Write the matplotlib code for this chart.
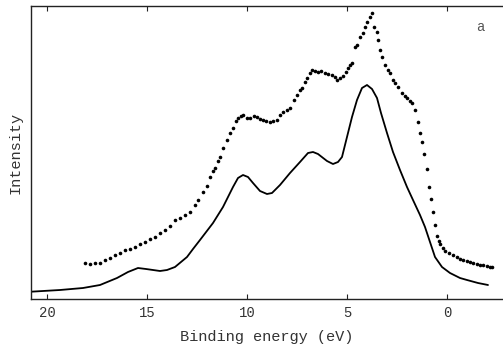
import matplotlib
matplotlib.use("Agg")
import matplotlib.pyplot as plt

# Calculated spectrum (solid line)
calc_energy = [20.8, 19.35, 18.2, 17.35, 16.5, 15.95, 15.45, 15.05, 14.7, 14.35, 14.0, 13.6,
               13.3, 13.0, 12.7, 12.35, 11.7, 11.2, 10.7, 10.45, 10.2, 9.95, 9.7, 9.35,
               9.0, 8.75, 8.35, 7.85, 7.35, 6.95, 6.7, 6.45, 6.0, 5.7, 5.45, 5.25, 5.0,
               4.75, 4.5, 4.25, 4.0, 3.75, 3.5, 3.3, 3.0, 2.7, 2.35, 2.0, 1.7, 1.35, 1.1,
               0.85, 0.6, 0.25, -0.15, -0.65, -1.0, -1.55, -2.05]
calc_intensity = [7.3, 9, 11, 14, 21, 27, 31, 30, 29, 28, 29, 32,
                  37, 42, 50, 59, 76, 92, 112, 121, 124, 122, 116, 108,
                  105, 106, 114, 126, 137, 146, 147, 145, 138, 135, 137, 142, 162,
                  182, 199, 211, 214, 210, 201, 186, 166, 147, 129, 112, 99, 84, 72,
                  57, 42, 32, 26, 21, 19, 16, 14]

# Experimental spectrum (dots)
exp_energy = [18.1, 17.85, 17.6, 17.35, 17.1, 16.85, 16.6, 16.35, 16.1, 15.85, 15.6, 15.35,
              15.1, 14.85, 14.6, 14.35, 14.1, 13.85, 13.6, 13.35, 13.1, 12.85, 12.6, 12.45,
              12.2, 12.0, 11.85, 11.7, 11.6, 11.45, 11.35, 11.2, 11.0, 10.85, 10.7, 10.55,
              10.45, 10.3, 10.2, 10.0, 9.85, 9.65, 9.5, 9.35, 9.2, 9.05, 8.85, 8.7, 8.5,
              8.35, 8.2, 8.0, 7.85, 7.65, 7.5, 7.35, 7.25, 7.1, 7.0, 6.85, 6.75, 6.6, 6.45,
              6.3, 6.1, 5.95, 5.75, 5.6, 5.5, 5.35, 5.2, 5.05, 4.95, 4.85, 4.75, 4.6, 4.5,
              4.35, 4.2, 4.1, 4.0, 3.85, 3.75, 3.65, 3.5, 3.45, 3.35, 3.25, 3.1, 2.95, 2.85,
              2.7, 2.6, 2.45, 2.25, 2.1, 2.0, 1.85, 1.75, 1.6, 1.45, 1.35, 1.25, 1.15, 1.0,
              0.9, 0.8, 0.7, 0.6, 0.5, 0.4, 0.35, 0.2, 0.1, -0.1, -0.3, -0.5, -0.65, -0.8,
              -1.0, -1.15, -1.3, -1.5, -1.65, -1.8, -2.0, -2.15, -2.25]
exp_intensity = [36, 35, 36, 36, 39, 41, 44, 46, 49, 50, 52, 55,
                 57, 60, 62, 66, 69, 73, 79, 81, 84, 87, 94, 99,
                 107, 113, 122, 128, 131, 138, 142, 151, 159, 166, 171, 178,
                 181, 183, 184, 181, 181, 183, 182, 180, 179, 178, 177, 178, 179,
                 184, 187, 189, 191, 199, 204, 209, 211, 217, 221, 226, 229, 228, 227,
                 228, 226, 225, 224, 222, 219, 221, 223, 227, 231, 234, 236, 252, 254,
                 262, 266, 272, 277, 282, 286, 272, 267, 259, 249, 242, 234, 229, 226,
                 219, 216, 212, 206, 203, 201, 198, 196, 189, 177, 166, 157, 145, 130,
                 112, 100, 87, 74, 63, 58, 55, 51, 48, 46, 44, 42, 40, 39,
                 38, 37, 36, 35, 34, 34, 33, 32, 32]

x_ticks = [20, 15, 10, 5, 0]
x_tick_labels = ["20", "15", "10", "5", "0"]

mono = ["Liberation Mono", "DejaVu Sans Mono"]
txt_color = "#333333"

fig = plt.figure(figsize=(5.03, 3.45), dpi=100)
ax = fig.add_axes([31 / 503, 1 - 299 / 345, 1 - 31 / 503, (299 - 6) / 345])

ax.plot(calc_energy, calc_intensity, color="black", lw=1.3,
        solid_joinstyle="round", solid_capstyle="round")
ax.plot(exp_energy, exp_intensity, linestyle="none", marker="o", ms=2.6,
        color="black", markeredgewidth=0)

ax.set_xlim(20.8, -2.8)
ax.set_ylim(0, 293)
ax.set_xticks(x_ticks)
ax.set_xticklabels(x_tick_labels, family=mono, fontsize=10, color=txt_color)
ax.set_yticks([])
ax.tick_params(axis="x", direction="in", top=True, length=3.5, width=0.8,
               colors="#222222", pad=5)
for lbl in ax.get_xticklabels():
    lbl.set_color(txt_color)

for side in ["left", "bottom", "top"]:
    ax.spines[side].set_linewidth(1.0)
    ax.spines[side].set_color("#222222")
ax.spines["right"].set_visible(False)

ax.set_xlabel("Binding energy (eV)", family=mono, fontsize=11, color=txt_color, labelpad=7)
ax.set_ylabel("Intensity", family=mono, fontsize=11, color=txt_color, labelpad=6)

fig.text(480 / 503, 1 - 27 / 345, "a", family=mono,
         fontsize=10, color="#555555", ha="center", va="center")

fig.savefig("out.png", dpi=100)
